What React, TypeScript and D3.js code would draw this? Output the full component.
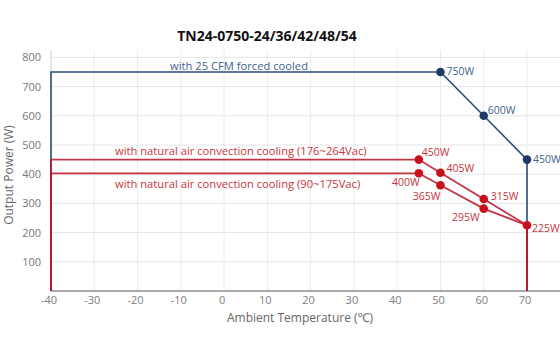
import React from 'react';
import * as d3 from 'd3';

// derating curves, temperature (°C) vs output power (W)
const forcedTemp = [-40, -40, 50, 60, 70, 70];
const forcedPower = [0, 750, 750, 600, 450, 0];
const highTemp = [-40, -40, 45, 50, 60, 70, 70];
const highPower = [0, 450, 450, 405, 315, 225, 0];
const lowTemp = [-40, -40, 45, 50, 60, 70, 70];
const lowPower = [0, 403, 403, 362, 282, 225, 0];

// which points carry a marker + label, and the label text printed there
const forcedMarks = [2, 3, 4];
const forcedLabels = ['750W', '600W', '450W'];
const highMarks = [2, 3, 4, 5];
const highLabels = ['450W', '405W', '315W', '225W'];
const lowMarks = [2, 3, 4];
const lowLabels = ['400W', '365W', '295W'];

const xTicks = [-40, -30, -20, -10, 0, 10, 20, 30, 40, 50, 60, 70];
const yTicks = [100, 200, 300, 400, 500, 600, 700, 800];

const title = 'TN24-0750-24/36/42/48/54';
const forcedName = 'with 25 CFM forced cooled';
const highName = 'with natural air convection cooling (176~264Vac)';
const lowName = 'with natural air convection cooling (90~175Vac)';

const width = 560;
const height = 351;
const font = '"Open Sans", "Noto Sans", sans-serif';

const BLUE = '#2c4b7c';
const BLUE_TXT = '#3f5f8e';
const RED = '#b8192a';
const RED_TXT = '#c8343c';

const App = () => {
  const x = d3.scaleLinear().domain([-40, 70]).range([51, 527]);
  const y = d3.scaleLinear().domain([0, 800]).range([291, 57.4]);

  const line = d3.line<[number, number]>()
    .x(d => x(d[0]))
    .y(d => y(d[1]));

  const zip = (t: number[], p: number[]) => t.map((v, i) => [v, p[i]] as [number, number]);
  const forced = zip(forcedTemp, forcedPower);
  const high = zip(highTemp, highPower);
  const low = zip(lowTemp, lowPower);

  // label offsets [dx, dy, anchor] per marked point
  const forcedOff: [number, number, string][] = [[6, 3, 'start'], [4, -2, 'start'], [6, 3, 'start']];
  const highOff: [number, number, string][] = [[3, -4, 'start'], [6, -1, 'start'], [7, 1, 'start'], [5, 7, 'start']];
  const lowOff: [number, number, string][] = [[1, 13, 'end'], [0, 15, 'end'], [-4, 12, 'end']];

  const xMax = x.invert(width);

  return (
    <svg width={width} height={height} style={{ display: 'block', position: 'absolute', left: 0, top: 0 }}
      fontFamily={font}>
      <rect width={width} height={height} fill="#fff" />

      {/* grid */}
      {d3.range(-40, 90, 10).map(t => (
        <line key={'gx' + t} x1={x(t)} x2={x(t)} y1={50} y2={291} stroke="#ececec" strokeWidth={1} />
      ))}
      {yTicks.map(v => (
        <line key={'gy' + v} x1={51} x2={x(xMax)} y1={y(v)} y2={y(v)} stroke="#e6e6e6" strokeWidth={1} />
      ))}
      <line x1={x(-40)} x2={x(-40)} y1={50} y2={291} stroke="#d8d8d8" />
      <line x1={x(-40)} x2={width} y1={y(0)} y2={y(0)} stroke="#8c8c8c" strokeWidth={1.5} />

      {/* tick labels */}
      {xTicks.map(t => (
        <text key={'xt' + t} x={x(t) - 2} y={304} textAnchor="middle" fontSize={11} fill="#808080">{t}</text>
      ))}
      {yTicks.map(v => (
        <text key={'yt' + v} x={41} y={y(v) + 4} textAnchor="end" fontSize={11} fill="#777">{v}</text>
      ))}

      {/* axis titles */}
      <text x={300} y={322} textAnchor="middle" fontSize={12} fill="#666">Ambient Temperature (℃)</text>
      <text transform={`translate(13,175) rotate(-90)`} textAnchor="middle" fontSize={12} fill="#666">Output Power (W)</text>

      {/* title */}
      <text x={267} y={41} textAnchor="middle" fontSize={14} fontWeight="bold" fill="#111">{title}</text>

      {/* curves */}
      <path d={line(forced) ?? ''} fill="none" stroke={BLUE} strokeWidth={1.6} />
      <path d={line(high) ?? ''} fill="none" stroke={RED} strokeWidth={1.8} strokeOpacity={0.88} />
      <path d={line(low) ?? ''} fill="none" stroke={RED} strokeWidth={1.8} strokeOpacity={0.88} />

      {/* markers */}
      {forcedMarks.map(i => (
        <circle key={'fm' + i} cx={x(forcedTemp[i])} cy={y(forcedPower[i])} r={4.3} fill="#1f3a68" />
      ))}
      {highMarks.map(i => (
        <circle key={'hm' + i} cx={x(highTemp[i])} cy={y(highPower[i])} r={4.3} fill="#c8101c" />
      ))}
      {lowMarks.map(i => (
        <circle key={'lm' + i} cx={x(lowTemp[i])} cy={y(lowPower[i])} r={4.3} fill="#c8101c" />
      ))}

      {/* point labels */}
      {forcedMarks.map((i, k) => (
        <text key={'fl' + i} x={x(forcedTemp[i]) + forcedOff[k][0]} y={y(forcedPower[i]) + forcedOff[k][1]}
          textAnchor={forcedOff[k][2]} fontSize={10.5} fill={BLUE_TXT}>{forcedLabels[k]}</text>
      ))}
      {highMarks.map((i, k) => (
        <text key={'hl' + i} x={x(highTemp[i]) + highOff[k][0]} y={y(highPower[i]) + highOff[k][1]}
          textAnchor={highOff[k][2]} fontSize={10.5} fill={RED_TXT}>{highLabels[k]}</text>
      ))}
      {lowMarks.map((i, k) => (
        <text key={'ll' + i} x={x(lowTemp[i]) + lowOff[k][0]} y={y(lowPower[i]) + lowOff[k][1]}
          textAnchor={lowOff[k][2]} fontSize={10.5} fill={RED_TXT}>{lowLabels[k]}</text>
      ))}

      {/* series names */}
      <text x={239} y={70} textAnchor="middle" fontSize={11.2} fill={BLUE_TXT}>{forcedName}</text>
      <text x={115} y={155} fontSize={11.2} fill={RED_TXT}>{highName}</text>
      <text x={115} y={188} fontSize={11.2} fill={RED_TXT}>{lowName}</text>
    </svg>
  );
};

export default App;
